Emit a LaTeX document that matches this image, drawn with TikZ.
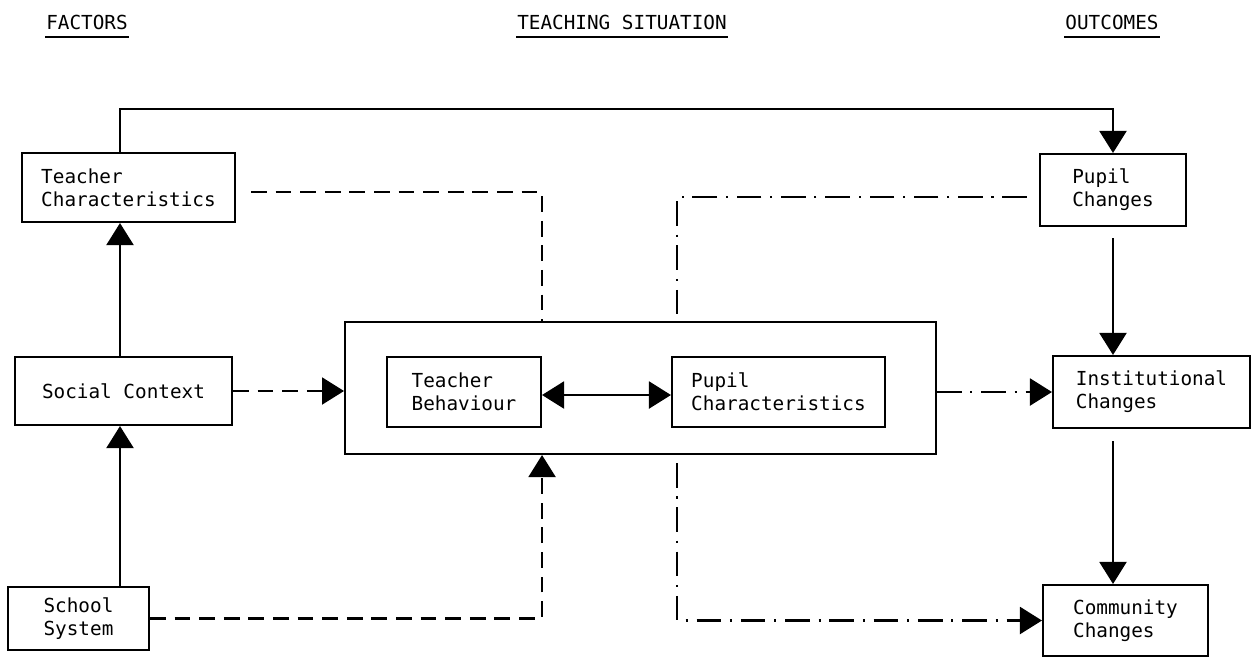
\documentclass[tikz,border=0pt]{standalone}
\usepackage{fontspec}
\setmonofont{DejaVu Sans Mono}
\usetikzlibrary{arrows.meta,calc}

\begin{document}
\begin{tikzpicture}[x=0.02cm,y=-0.02cm,line width=1.2pt,
  font=\ttfamily\fontsize{11}{13}\selectfont,
  >={Triangle[length=4.4mm,width=5.4mm]},
  box/.style={draw,align=left,inner sep=0pt},
  head/.style={inner xsep=0pt,inner ysep=4pt},
  broken/.style={dash pattern=on 9pt off 5pt},
  dotdash/.style={dash pattern=on 14pt off 5pt on 1.2pt off 5pt}]
\useasboundingbox (0,0) rectangle (1252,657);

% column headings
\node[head] (fac) at (87,22) {FACTORS};
\node[head] (sit) at (622,22) {TEACHING SITUATION};
\node[head] (out) at (1112,22) {OUTCOMES};
\foreach \h in {fac,sit,out}
  \draw (\h.south west) -- (\h.south east);

% factors
\node[box,minimum width=4.26cm,minimum height=1.38cm] (tchar) at (128.5,187.5) {Teacher\\Characteristics};
\node[box,minimum width=4.34cm,minimum height=1.36cm] (social) at (123.5,391) {Social Context};
\node[box,minimum width=2.82cm,minimum height=1.26cm] (school) at (78.5,618.5) {School\\System};

% teaching situation
\node[box,minimum width=11.82cm,minimum height=2.64cm] (outer) at (640.5,388) {};
\node[box,minimum width=3.08cm,minimum height=1.4cm] (tbeh) at (464,392) {Teacher\\Behaviour};
\node[box,minimum width=4.26cm,minimum height=1.4cm] (pchar) at (778.5,392) {Pupil\\Characteristics};

% outcomes
\node[box,minimum width=2.92cm,minimum height=1.44cm] (pchg) at (1113,190) {Pupil\\Changes};
\node[box,minimum width=3.94cm,minimum height=1.44cm] (inst) at (1151.5,392) {Institutional\\Changes};
\node[box,minimum width=3.3cm,minimum height=1.42cm] (comm) at (1125.5,620.5) {Community\\Changes};

\coordinate (ridge) at (0,109);
\coordinate (up) at ($(pchar.west |- outer.north)+(6,0)$);
\coordinate (down) at ($(pchar.west |- outer.south)+(6,8)$);

% solid links
\draw[->] ([xshift=-0.17cm]tchar.north) |- (ridge -| pchg.north) -- (pchg.north);
\draw[->] ([xshift=-0.07cm]social.north) -- ([xshift=-0.07cm]social.north |- tchar.south);
\draw[->] ([xshift=-0.07cm]social.south |- school.north) -- ([xshift=-0.07cm]social.south);
\draw[<->] ([yshift=-0.06cm]tbeh.east) -- ([yshift=-0.06cm]pchar.west);
\draw[->,shorten <=0.22cm] (pchg.south) -- (pchg.south |- inst.north);
\draw[->,shorten <=0.24cm] (pchg.south |- inst.south) -- (pchg.south |- comm.north);

% dashed links
\draw[broken,shorten <=0.3cm] ([yshift=-0.09cm]tchar.east) -| (tbeh.east |- outer.north);
\draw[broken,->] (social.east) -- (social.east -| outer.west);
\draw[broken,->] (school.east) -| (tbeh.east |- outer.south);

% dash-dot links
\draw[dotdash,shorten <=0.24cm] ([yshift=-0.14cm]pchg.west) -| (up);
\draw[dotdash,->] (outer.east |- inst.west) -- (inst.west);
\draw[dotdash,->] (down) |- (comm.west);
\end{tikzpicture}
\end{document}
